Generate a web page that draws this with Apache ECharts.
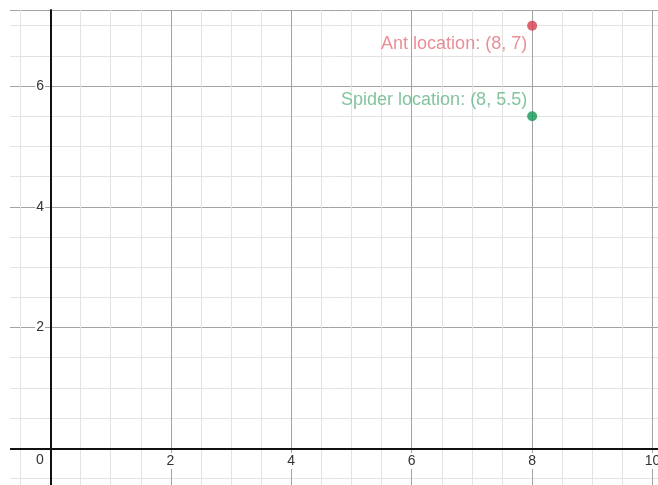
<!DOCTYPE html>
<html>
<head>
<meta charset="utf-8">
<script src="https://cdn.jsdelivr.net/npm/echarts@6/dist/echarts.min.js"></script>
<style>
    html, body { margin: 0; padding: 0; background: #fff; }
    #chart { width: 658px; height: 485px; }
</style>
</head>
<body>
<div id="chart"></div>
<script>
// 点的名称和坐标
const pointNames = ['Ant', 'Spider'];
const pointX = [8, 8];
const pointY = [7, 5.5];

// 坐标轴范围
const xMin = -2, xMax = 10.09;
const yMin = -2, yMax = 7.26;

const fontFamily = 'Liberation Sans, Arial, sans-serif';

let chart = echarts.init(document.getElementById('chart'));

function pointLabel(i) {
    return pointNames[i] + ' location: (' + pointX[i] + ', ' + pointY[i] + ')';
}

// 网格线坐标轴（不显示标签）
function gridAxis(min, max, interval, pos, color, isMajor) {
    return {
        type: 'value', gridIndex: 0, min: min, max: max, interval: interval, position: pos,
        axisLine: isMajor ? {onZero: true, onZeroAxisIndex: 1, lineStyle: {color: '#111', width: 2}} : {show: false},
        axisTick: {show: false}, axisLabel: {show: false},
        splitLine: {show: true, lineStyle: {color: color, width: 1}}
    };
}

// 标签坐标轴（网格1的左下角在原点）
function labelAxis(max, pos, labelOpt) {
    return {
        type: 'value', gridIndex: 1, min: 0, max: max, interval: 2, position: pos,
        axisLine: {show: false}, axisTick: {show: false}, splitLine: {show: false},
        axisLabel: Object.assign({
            fontSize: 14,
            fontFamily: fontFamily,
            color: '#333',
            showMaxLabel: false
        }, labelOpt)
    };
}

const tickText = {fontSize: 14, fontFamily: fontFamily, color: '#333'};

let option = {
    animation: false,
    grid: [
        {left: -70, right: 0, top: 10, bottom: -84, outerBoundsMode: 'none'},
        {left: 50, right: 0, top: 10, bottom: 37, outerBoundsMode: 'none'}
    ],
    xAxis: [
        gridAxis(xMin, xMax, 0.5, 'bottom', '#e3e3e3', false),
        gridAxis(xMin, xMax, 2, 'bottom', '#a3a3a3', true),
        labelAxis(xMax, 'bottom', {
            margin: 5,
            formatter: function (v) {
                return v === 0 ? '{z|0}' : '{n|' + v + '}';
            },
            rich: {
                z: Object.assign({padding: [0, 20, 0, 0]}, tickText),
                n: Object.assign({backgroundColor: '#fff', padding: [1, 1]}, tickText)
            }
        })
    ],
    yAxis: [
        gridAxis(yMin, yMax, 0.5, 'left', '#e3e3e3', false),
        gridAxis(yMin, yMax, 2, 'left', '#a3a3a3', true),
        labelAxis(yMax, 'left', {
            margin: 5,
            backgroundColor: '#fff',
            padding: [0, 1],
            formatter: function (v) {
                return v === 0 ? '' : String(v);
            }
        })
    ],
    graphic: [
        {type: 'rect', z: 100, shape: {x: 0, y: 0, width: 10, height: 485}, style: {fill: '#fff'}}
    ],
    series: [
        {
            name: pointNames[0],
            type: 'scatter',
            xAxisIndex: 1, yAxisIndex: 1,
            symbolSize: 10,
            itemStyle: {color: '#d33f4c'},
            data: [[pointX[0], pointY[0]]],
            label: {
                show: true,
                position: 'left',
                distance: 0,
                offset: [0, 18],
                fontSize: 18,
                fontFamily: fontFamily,
                color: '#e5727c',
                formatter: function () { return pointLabel(0); }
            }
        },
        {
            name: pointNames[1],
            type: 'scatter',
            xAxisIndex: 1, yAxisIndex: 1,
            symbolSize: 10,
            itemStyle: {color: '#139756'},
            data: [[pointX[1], pointY[1]]],
            label: {
                show: true,
                position: 'left',
                distance: 0,
                offset: [0, -16],
                fontSize: 18,
                fontFamily: fontFamily,
                color: '#62b585',
                formatter: function () { return pointLabel(1); }
            }
        }
    ]
};

chart.setOption(option);
</script>
</body>
</html>
